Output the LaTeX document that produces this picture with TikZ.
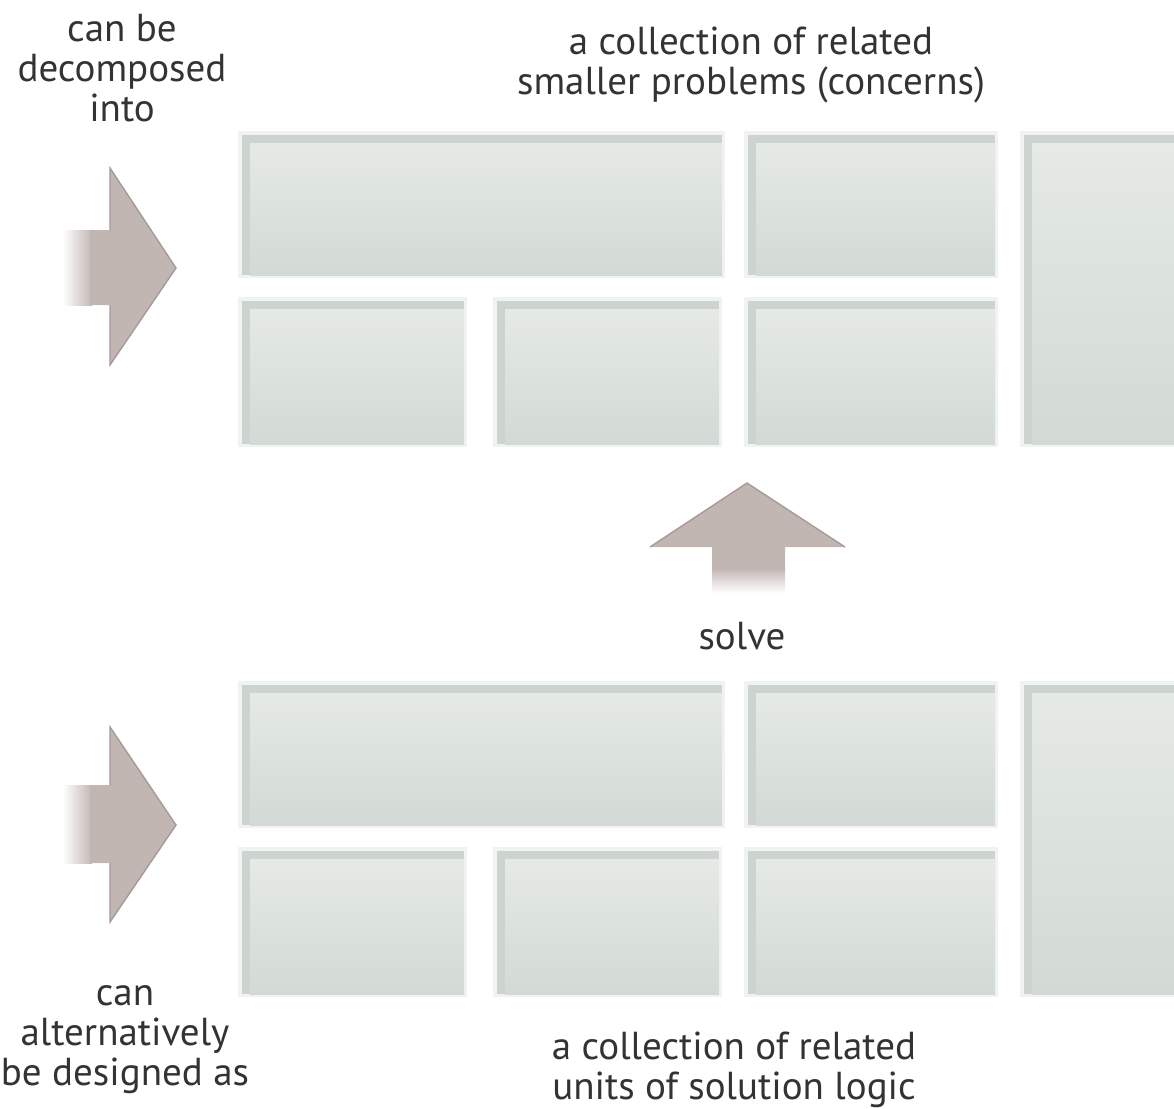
\documentclass[tikz,border=0pt]{standalone}
\usepackage{fontspec}
\setmainfont{PT Sans}
\definecolor{faint}{HTML}{F1F3F2}
\definecolor{band}{HTML}{CDD4D0}
\definecolor{facetop}{HTML}{E5EAE6}
\definecolor{facebot}{HTML}{D3D9D5}
\definecolor{arrowc}{HTML}{C2B6B3}
\definecolor{arrowedge}{HTML}{A59A98}
\definecolor{txtgray}{HTML}{333333}
\tikzset{
  lbl/.style={font=\fontsize{19.5}{20}\selectfont, text=txtgray, align=center, inner sep=0pt},
  cbox/.style={fill=faint, draw=none, inner sep=0pt, outer sep=0pt,
    path picture={
      \fill[band] ([xshift=2pt,yshift=-2pt]path picture bounding box.north west) rectangle ([xshift=-1.5pt,yshift=1.5pt]path picture bounding box.south east);
      \shade[top color=facetop, bottom color=facebot] ([xshift=6pt,yshift=-6pt]path picture bounding box.north west) rectangle ([xshift=-1.5pt,yshift=1.5pt]path picture bounding box.south east);
    }},
  arrowfill/.style={fill=arrowc},
  arrowline/.style={draw=arrowedge, line width=0.7pt, line join=miter},
}
\newcommand\concernbox[5]{%
  \node[cbox, minimum width={(#4-#2)*0.5pt}, minimum height={(#5-#3)*0.5pt}] (#1) at ({(#2+#4)/2},{(#3+#5)/2}) {};%
}
\begin{document}
\begin{tikzpicture}[x=0.5pt,y=-0.5pt]
\useasboundingbox (0,0) rectangle (1174,1109);
\clip (0,0) rectangle (1174,1109);

% ---- top set of blocks (concerns)
\concernbox{ta}{238}{131}{725}{278}
\concernbox{tb}{744}{131}{998}{278}
\concernbox{tr}{1020}{131}{1190}{447}
\concernbox{tc}{238}{297}{467}{447}
\concernbox{td}{493}{297}{722}{447}
\concernbox{te}{744}{297}{998}{447}

% ---- bottom set of blocks (units of solution logic)
\concernbox{ba}{238}{681}{725}{828}
\concernbox{bb}{744}{681}{998}{828}
\concernbox{br}{1020}{681}{1190}{997}
\concernbox{bc}{238}{847}{467}{997}
\concernbox{bd}{493}{847}{722}{997}
\concernbox{be}{744}{847}{998}{997}

% ---- left arrow (top)
\shade[left color=white, right color=arrowc] (63,230) rectangle (92,305);
\fill[arrowfill] (90,230) -- (110,230) -- (110,168) -- (176,268) -- (110,365) -- (110,305) -- (90,305) -- cycle;
\draw[arrowline] (110,230) -- (110,168) -- (176,268) -- (110,365) -- (110,305);

% ---- left arrow (bottom)
\shade[left color=white, right color=arrowc] (63,785) rectangle (92,863);
\fill[arrowfill] (90,785) -- (110,785) -- (110,727) -- (176,825) -- (110,922) -- (110,863) -- (90,863) -- cycle;
\draw[arrowline] (110,785) -- (110,727) -- (176,825) -- (110,922) -- (110,863);

% ---- up arrow (solve)
\shade[top color=arrowc, bottom color=white] (712,568) rectangle (785,593);
\fill[arrowfill] (712,570) -- (712,547) -- (650,547) -- (747,483) -- (845,547) -- (785,547) -- (785,570) -- cycle;
\draw[arrowline] (650,547) -- (747,483) -- (845,547);

% ---- labels
\node[lbl] (dec) at (122,68) {can be\\decomposed\\into};
\node[lbl] (prob) at (751,65) {a collection of related\\smaller problems (concerns)};
\node[lbl] (solve) at (742,636) {solve};
\node[lbl] (alt) at (125,1040) {can\\alternatively\\be designed as};
\node[lbl] (units) at (734,1070) {a collection of related\\units of solution logic};
\end{tikzpicture}
\end{document}
